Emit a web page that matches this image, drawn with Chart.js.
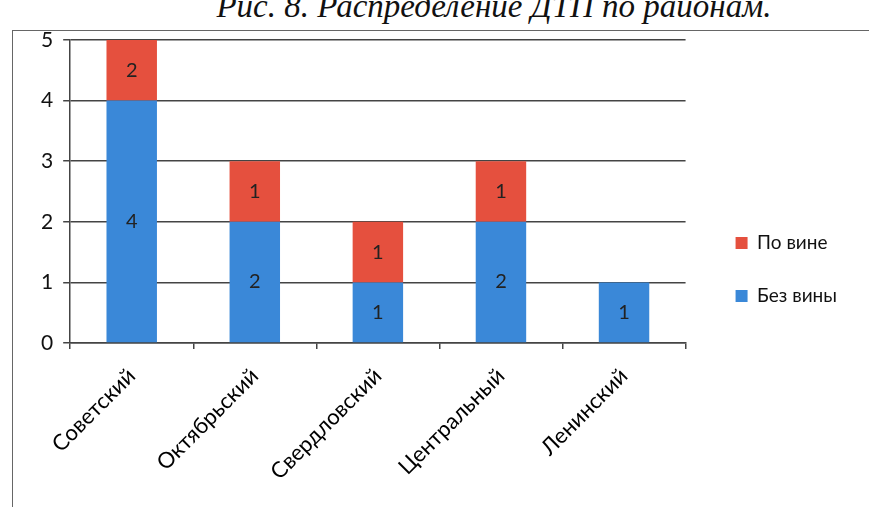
<!DOCTYPE html>
<html lang="ru">
<head>
<meta charset="UTF-8">
<script src="https://cdn.jsdelivr.net/npm/chart.js"></script>
<title>Распределение ДТП по районам</title>
<style>
  * { margin: 0; padding: 0; }
  body { width: 869px; height: 507px; overflow: hidden; background: #fff; position: relative; }
  .titulo {
    position: absolute; left: 0; width: 988px; top: -12px;
    text-align: center; font-family: "Liberation Serif", serif; font-style: italic;
    font-size: 33px; color: #111; white-space: nowrap;
  }
  .marco {
    position: absolute; left: 12px; top: 30px; width: 900px; height: 520px;
    border-left: 1.5px solid #666; border-top: 1.5px solid #666;
  }
  canvas { position: absolute; left: 0; top: 0; }
</style>
</head>
<body>
<div class="titulo">Рис. 8. Распределение ДТП по районам.</div>
<div class="marco"></div>
<canvas id="myChart" width="869" height="507"></canvas>
<script>
  const rayones = ['Советский', 'Октябрьский', 'Свердловский', 'Центральный', 'Ленинский'];
  const sinCulpa = [4, 2, 1, 2, 1];
  const porCulpa = [2, 1, 1, 1, 0];
  const ticksY = [0, 1, 2, 3, 4, 5];

  // valores dentro de cada segmento (centrado en la parte visible)
  const etiquetasPlugin = {
    id: 'etiquetas',
    afterDatasetsDraw(chart) {
      const ctx = chart.ctx;
      const area = chart.chartArea;
      ctx.save();
      ctx.font = '20px Lato';
      ctx.fillStyle = '#222';
      ctx.textAlign = 'center';
      ctx.textBaseline = 'middle';
      chart.data.datasets.forEach((ds, i) => {
        chart.getDatasetMeta(i).data.forEach((bar, j) => {
          if (!ds.data[j]) return;
          const arriba = Math.max(bar.y, area.top);
          const abajo = Math.min(bar.base, area.bottom);
          ctx.fillText(ds.data[j], bar.x, (arriba + abajo) / 2);
        });
      });
      ctx.restore();
    }
  };

  const ctx = document.getElementById('myChart').getContext('2d');
  new Chart(ctx, {
    type: 'bar',
    data: {
      labels: rayones,
      datasets: [
        { label: 'Без вины', data: sinCulpa, backgroundColor: '#3a88d8' },
        { label: 'По вине', data: porCulpa, backgroundColor: '#e5503e' }
      ]
    },
    options: {
      responsive: false,
      animation: false,
      layout: { padding: { left: 31, right: 22, top: 40, bottom: 8 } },
      datasets: { bar: { categoryPercentage: 1, barPercentage: 0.41 } },
      scales: {
        x: {
          stacked: true,
          grid: { drawOnChartArea: false, color: '#444', lineWidth: 1.5, tickLength: 6 },
          border: { color: '#444', width: 1.5 },
          ticks: { minRotation: 45, maxRotation: 45, padding: 14, color: '#000', font: { family: 'Lato', size: 22 } }
        },
        y: {
          stacked: true,
          min: 0, max: 5,
          afterBuildTicks: axis => { axis.ticks = ticksY.map(v => ({ value: v })); },
          grid: { color: '#444', lineWidth: 1.5, tickLength: 7 },
          border: { color: '#444', width: 1.5 },
          ticks: { color: '#111', padding: 10, font: { family: 'Lato', size: 21 } }
        },
        // espacio entre el área del gráfico y la leyenda
        hueco: {
          position: 'right',
          display: false,
          afterFit: s => { s.width = 16; }
        }
      },
      plugins: {
        tooltip: { enabled: false },
        legend: {
          position: 'right',
          reverse: true,
          labels: { boxWidth: 12, boxHeight: 12, padding: 34, color: '#111', font: { family: 'Lato', size: 19 } }
        }
      }
    },
    plugins: [etiquetasPlugin]
  });
</script>
</body>
</html>
